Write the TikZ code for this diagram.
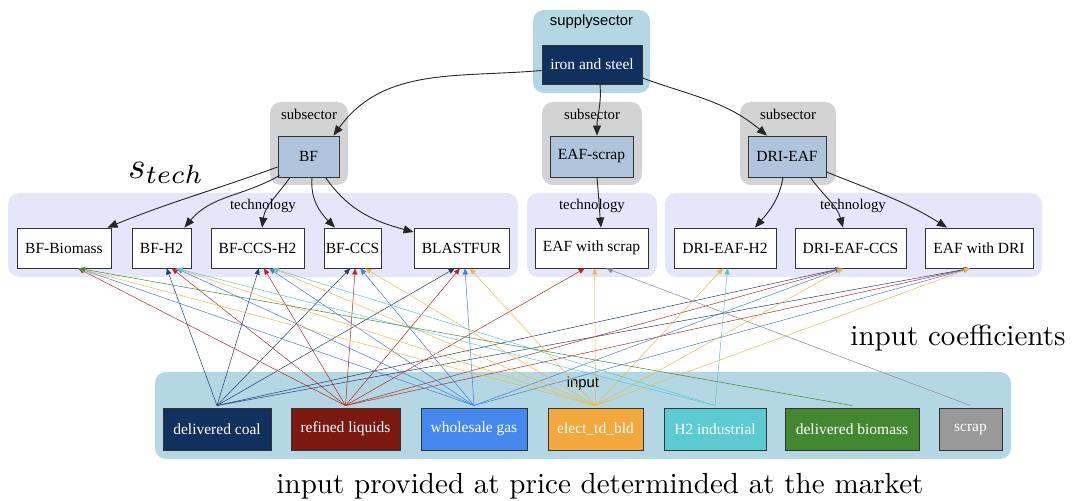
\documentclass[tikz,border=0pt]{standalone}
\usepackage{fontspec}
\newfontfamily\tms{Liberation Serif}
\newfontfamily\arl{Liberation Sans}
\usetikzlibrary{arrows.meta,calc}
\definecolor{navy}{HTML}{12305E}
\definecolor{rliq}{HTML}{7B1810}
\definecolor{wgas}{HTML}{4589EE}
\definecolor{elec}{HTML}{F2A83C}
\definecolor{htwo}{HTML}{5BCBD1}
\definecolor{bmass}{HTML}{438731}
\definecolor{scrp}{HTML}{999999}
\definecolor{lblue}{HTML}{B3D7E3}
\definecolor{lgray}{HTML}{D3D3D3}
\definecolor{lav}{HTML}{E6E6FA}
\definecolor{lsteel}{HTML}{B0C4DE}
\definecolor{ecoal}{HTML}{1E3C78}
\definecolor{eliq}{HTML}{B8281C}
\definecolor{egas}{HTML}{3D7FE0}
\definecolor{eel}{HTML}{F5B83C}
\definecolor{eh2}{HTML}{55C8D5}
\definecolor{ebio}{HTML}{3C8C30}
\definecolor{escr}{HTML}{8A8A8A}
\tikzset{
  box/.style={draw=black!80, line width=0.9pt, inner sep=0pt, font=\tms\fontsize{15.5}{18}\selectfont},
  tbox/.style={box, fill=white, minimum height=40pt},
  sbox/.style={box, fill=lsteel, minimum height=41pt},
  ibox/.style={box, text=white, minimum height=42pt},
  clus/.style={rounded corners=11pt},
  serlab/.style={font=\tms\fontsize{14.8}{17}\selectfont, inner sep=0pt},
  sanlab/.style={font=\arl\fontsize{14.8}{17}\selectfont, inner sep=0pt},
  biglab/.style={font=\fontsize{10}{12}\selectfont, inner sep=0pt, scale=2.91},
  mathlab/.style={font=\fontsize{10}{12}\selectfont, inner sep=0pt, scale=3.75},
  ie/.style={line width=0.5pt, -{Triangle[length=6pt,width=5pt]}},
  te/.style={line width=0.9pt, draw=black!85, -{Triangle[length=10pt,width=8pt]}}
}
\newcommand\ine[3]{\draw[ie,#3] let \p1=(#1.north), \p2=(#2.south) in (\x1,{\y1+2pt}) -- ({\x2+max(-12pt,min(12pt,0.04*(\x1-\x2)))+3pt},\y2);}
\begin{document}
\begin{tikzpicture}[x=1pt,y=1pt]
\useasboundingbox (0,0) rectangle (1072,501);
% clusters
\fill[lblue,clus] (533,408) rectangle (650,491);
\fill[lgray,clus] (270,316) rectangle (348,399);
\fill[lgray,clus] (542,316) rectangle (642,399);
\fill[lgray,clus] (740,316) rectangle (836,399);
\fill[lav,clus] (8,224) rectangle (518,308);
\fill[lav,clus] (527,224) rectangle (657,308);
\fill[lav,clus] (665,224) rectangle (1042,308);
\fill[lblue,clus] (155,42) rectangle (1011,129);
% cluster labels
\node[sanlab] (lsup) at (591.5,479) {supplysector};
\node[serlab] (lsub1) at (309,387) {subsector};
\node[serlab] (lsub2) at (592,387) {subsector};
\node[serlab] (lsub3) at (788,387) {subsector};
\node[serlab] (ltec1) at (263,295) {technology};
\node[serlab] (ltec2) at (592,295) {technology};
\node[serlab] (ltec3) at (853,295) {technology};
\node[sanlab] (linp) at (583,117) {input};
% nodes
\node[box, fill=navy, text=white, minimum width=100pt, minimum height=39pt] (iron) at (592,436.5) {iron and steel};
\node[sbox, minimum width=61pt] (BF) at (308.5,344.5) {BF};
\node[sbox, minimum width=83pt] (EAFs) at (591.5,344.5) {EAF-scrap};
\node[sbox, minimum width=78pt] (DRI) at (787,344.5) {DRI-EAF};
\node[tbox, minimum width=94pt] (BFBio) at (64,253) {BF-Biomass};
\node[tbox, minimum width=59pt] (BFH) at (161.5,253) {BF-H2};
\node[tbox, minimum width=93pt] (BFCH) at (257.5,253) {BF-CCS-H2};
\node[tbox, minimum width=57pt] (BFC) at (352.5,253) {BF-CCS};
\node[tbox, minimum width=95pt] (BLF) at (461.5,253) {BLASTFUR};
\node[tbox, minimum width=113pt] (EWS) at (591.5,253) {EAF with scrap};
\node[tbox, minimum width=102pt] (DRIH) at (725,253) {DRI-EAF-H2};
\node[tbox, minimum width=111pt] (DRIC) at (850.5,253) {DRI-EAF-CCS};
\node[tbox, minimum width=108pt] (EWD) at (979,253) {EAF with DRI};
\node[ibox, fill=navy, minimum width=108pt] (coal) at (217,72) {delivered coal};
\node[ibox, fill=rliq, minimum width=109pt] (liq) at (345.5,72) {refined liquids};
\node[ibox, fill=wgas, minimum width=106pt] (gas) at (474,72) {wholesale gas};
\node[ibox, fill=elec, minimum width=95pt] (el) at (595.5,72) {elect\_td\_bld};
\node[ibox, fill=htwo, minimum width=102pt] (h2) at (715,72) {H2 industrial};
\node[ibox, fill=bmass, minimum width=134pt] (bio) at (852,72) {delivered biomass};
\node[ibox, fill=scrp, minimum width=63pt] (scr) at (970.5,72) {scrap};
% annotation labels
\node[mathlab] (stech) at (166,328) {$s_{tech}$};
\node[biglab] (coef) at (958,163) {input coefficients};
\node[biglab] (prov) at (600,15) {input provided at price determinded at the market};
% input edges
\ine{coal}{BFH}{ecoal}\ine{coal}{BFCH}{ecoal}\ine{coal}{BFC}{ecoal}\ine{coal}{BLF}{ecoal}\ine{coal}{DRIC}{ecoal}\ine{coal}{EWD}{ecoal}
\ine{liq}{BFBio}{eliq}\ine{liq}{BFH}{eliq}\ine{liq}{BFCH}{eliq}\ine{liq}{BFC}{eliq}\ine{liq}{BLF}{eliq}\ine{liq}{EWS}{eliq}\ine{liq}{DRIC}{eliq}\ine{liq}{EWD}{eliq}
\ine{gas}{BFBio}{egas}\ine{gas}{BFH}{egas}\ine{gas}{BFCH}{egas}\ine{gas}{BFC}{egas}\ine{gas}{BLF}{egas}\ine{gas}{DRIC}{egas}\ine{gas}{EWD}{egas}
\ine{el}{BFBio}{eel}\ine{el}{BFH}{eel}\ine{el}{BFCH}{eel}\ine{el}{BFC}{eel}\ine{el}{BLF}{eel}\ine{el}{EWS}{eel}\ine{el}{DRIH}{eel}\ine{el}{DRIC}{eel}\ine{el}{EWD}{eel}
\ine{h2}{BFH}{eh2}\ine{h2}{BFCH}{eh2}\ine{h2}{DRIH}{eh2}
\ine{bio}{BFBio}{ebio}
\ine{scr}{EWS}{escr}
% structure edges
\draw[te] ([yshift=-6pt]iron.west) to[out=185,in=54] ([xshift=-6pt]BF.north east);
\draw[te] ([xshift=8pt]iron.south) to[out=-85,in=90] ([xshift=5.5pt]EAFs.north);
\draw[te] ([yshift=-13.5pt]iron.east) to[out=-20,in=140] ([xshift=-20pt]DRI.north);
\draw[te] ([yshift=-10.5pt]BF.west) to[out=200,in=22] ([xshift=-4pt]BFBio.north east);
\draw[te] ([xshift=2pt,yshift=2pt]BF.south west) to[out=210,in=50] ([xshift=-7pt]BFH.north east);
\draw[te] ([xshift=-18.5pt]BF.south) to[out=235,in=82] ([xshift=4.5pt]BFCH.north);
\draw[te] ([xshift=3.5pt]BF.south) to[out=-95,in=135] ([xshift=-17.5pt]BFC.north);
\draw[te] ([xshift=-14pt]BF.south east) to[out=-55,in=165] ([yshift=16pt]BLF.west);
\draw[te] ([xshift=5.5pt]EAFs.south) to[out=-85,in=95] ([xshift=9.5pt]EWS.north);
\draw[te] ([xshift=-4pt]DRI.south) to[out=-100,in=49] ([xshift=30pt]DRIH.north);
\draw[te] ([xshift=-16pt]DRI.south east) to[out=-55,in=105] ([xshift=-7.5pt]DRIC.north);
\draw[te] ([yshift=-15.5pt]DRI.east) to[out=-22,in=148] ([xshift=-32pt]EWD.north);
\end{tikzpicture}
\end{document}
